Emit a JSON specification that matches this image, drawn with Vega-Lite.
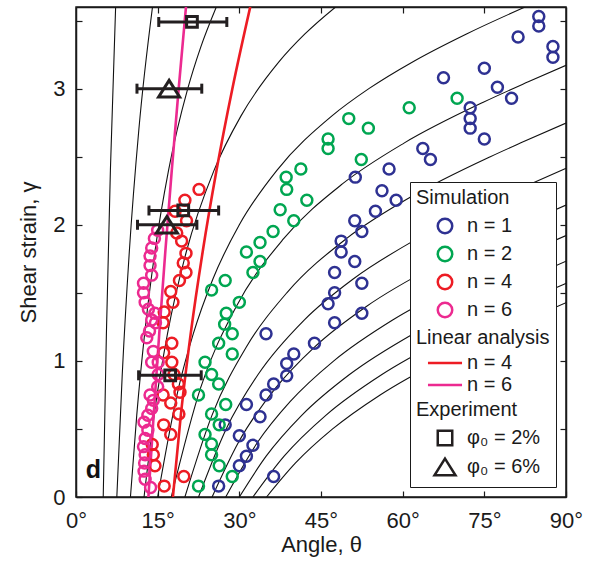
{
  "$schema": "https://vega.github.io/schema/vega-lite/v6.json",
  "width": 490,
  "height": 490,
  "autosize": {"type": "none"},
  "padding": {"left": 76, "top": 7, "right": 24, "bottom": 70},
  "background": "white",
  "config": {
    "font": "Liberation Sans",
    "view": {"stroke": "#1a1a1a", "strokeWidth": 1.5},
    "axis": {
      "grid": false, "labelFontSize": 22, "titleFontSize": 22, "labelColor": "#1a1a1a",
      "titleColor": "#1a1a1a", "titleFontWeight": "normal", "domainColor": "#1a1a1a",
      "domainWidth": 1.5, "tickColor": "#1a1a1a", "tickWidth": 1.2, "tickSize": -6, "labelFlush": false
    },
    "legend": {
      "labelFontSize": 20, "labelColor": "#1a1a1a", "padding": 6, "rowPadding": 2,
      "strokeColor": "#1a1a1a", "fillColor": "white", "symbolStrokeWidth": 2.5, "symbolSize": 210,
      "symbolOffset": 19, "labelOffset": -39, "labelLimit": 300
    }
  },
  "datasets": {
    "curves": [
      {"c":5,"g":0,"t":5},{"c":5,"g":1.2,"t":5.583},{"c":5,"g":2.4,"t":6.319},{"c":5,"g":3.6,"t":7.278},
      {"c":7.5,"g":0,"t":7.5},{"c":7.5,"g":0.9,"t":8.494},{"c":7.5,"g":1.8,"t":9.789},{"c":7.5,"g":2.7,"t":11.545},{"c":7.5,"g":3.6,"t":14.05},
      {"c":10,"g":0,"t":10},{"c":10,"g":0.6,"t":11.155},{"c":10,"g":1.2,"t":12.607},{"c":10,"g":1.8,"t":14.484},{"c":10,"g":2.4,"t":16.998},{"c":10,"g":3.0,"t":20.523},{"c":10,"g":3.3,"t":22.866},{"c":10,"g":3.6,"t":25.771},
      {"c":12.5,"g":0,"t":12.5},{"c":12.5,"g":0.6,"t":14.344},{"c":12.5,"g":1.2,"t":16.807},{"c":12.5,"g":1.8,"t":20.25},{"c":12.5,"g":2.4,"t":25.351},{"c":12.5,"g":2.8,"t":30.31},{"c":12.5,"g":3.2,"t":37.342},{"c":12.5,"g":3.4,"t":41.996},{"c":12.5,"g":3.6,"t":47.68},
      {"c":15,"g":0,"t":15},{"c":15,"g":0.8,"t":18.832},{"c":15,"g":1.2,"t":21.55},{"c":15,"g":1.6,"t":25.128},{"c":15,"g":2.0,"t":30},{"c":15,"g":2.4,"t":36.896},{"c":15,"g":2.8,"t":47.013},{"c":15,"g":3.0,"t":53.791},{"c":15,"g":3.2,"t":61.983},{"c":15,"g":3.4,"t":71.629},{"c":15,"g":3.6,"t":82.475},
      {"c":17.5,"g":0,"t":17.5},{"c":17.5,"g":0.8,"t":22.864},{"c":17.5,"g":1.4,"t":29.443},{"c":17.5,"g":1.9,"t":38.182},{"c":17.5,"g":2.3,"t":48.925},{"c":17.5,"g":2.6,"t":60.247},{"c":17.5,"g":2.9,"t":74.805},{"c":17.5,"g":3.05,"t":83.067},{"c":17.5,"g":3.1716,"t":90},
      {"c":20,"g":0,"t":20},{"c":20,"g":0.6,"t":24.969},{"c":20,"g":1.1,"t":31.258},{"c":20,"g":1.5,"t":38.716},{"c":20,"g":1.9,"t":49.718},{"c":20,"g":2.2,"t":61.299},{"c":20,"g":2.5,"t":76.099},{"c":20,"g":2.6,"t":81.609},{"c":20,"g":2.7475,"t":90},
      {"c":22.5,"g":0,"t":22.5},{"c":22.5,"g":0.5,"t":27.583},{"c":22.5,"g":0.9,"t":33.441},{"c":22.5,"g":1.3,"t":41.908},{"c":22.5,"g":1.6,"t":50.847},{"c":22.5,"g":1.9,"t":62.787},{"c":22.5,"g":2.15,"t":75.2},{"c":22.5,"g":2.3,"t":83.485},{"c":22.5,"g":2.4142,"t":90},
      {"c":25,"g":0,"t":25},{"c":25,"g":0.4,"t":29.823},{"c":25,"g":0.8,"t":36.641},{"c":25,"g":1.1,"t":43.754},{"c":25,"g":1.4,"t":53.332},{"c":25,"g":1.7,"t":66.035},{"c":25,"g":1.9,"t":76.261},{"c":25,"g":2.05,"t":84.602},{"c":25,"g":2.1445,"t":90},
      {"c":27.5,"g":0,"t":27.5},{"c":27.5,"g":0.4,"t":33.32},{"c":27.5,"g":0.7,"t":39.319},{"c":27.5,"g":1.0,"t":47.355},{"c":27.5,"g":1.3,"t":58.159},{"c":27.5,"g":1.55,"t":69.645},{"c":27.5,"g":1.75,"t":80.296},{"c":27.5,"g":1.921,"t":90},
      {"c":30,"g":0,"t":30},{"c":30,"g":0.3,"t":34.925},{"c":30,"g":0.6,"t":41.455},{"c":30,"g":0.9,"t":50.235},{"c":30,"g":1.2,"t":61.983},{"c":30,"g":1.45,"t":74.246},{"c":30,"g":1.6,"t":82.475},{"c":30,"g":1.7321,"t":90},
      {"c":32.5,"g":0,"t":32.5},{"c":32.5,"g":0.3,"t":38.224},{"c":32.5,"g":0.6,"t":45.881},{"c":32.5,"g":0.9,"t":56.189},{"c":32.5,"g":1.15,"t":67.232},{"c":32.5,"g":1.35,"t":77.609},{"c":32.5,"g":1.5,"t":86.013},{"c":32.5,"g":1.5697,"t":90},
      {"c":35,"g":0,"t":35},{"c":35,"g":0.25,"t":40.326},{"c":35,"g":0.5,"t":47.136},{"c":35,"g":0.75,"t":55.859},{"c":35,"g":1.0,"t":66.824},{"c":35,"g":1.2,"t":77.151},{"c":35,"g":1.35,"t":85.534},{"c":35,"g":1.4281,"t":90}
    ],
    "linear": [
      {"s":"lin4","g":0,"t":17.8},{"s":"lin4","g":0.6,"t":19.25},{"s":"lin4","g":1.2,"t":21.07},{"s":"lin4","g":1.8,"t":23.26},{"s":"lin4","g":2.4,"t":25.81},{"s":"lin4","g":3.0,"t":28.72},{"s":"lin4","g":3.6,"t":32.0},
      {"s":"lin6","g":0,"t":13.3},{"s":"lin6","g":0.6,"t":14.26},{"s":"lin6","g":1.2,"t":15.29},{"s":"lin6","g":1.8,"t":16.4},{"s":"lin6","g":2.4,"t":17.59},{"s":"lin6","g":3.0,"t":18.86},{"s":"lin6","g":3.6,"t":20.2}
    ],
    "sim": [
      {"k":"sim1","t":85.0,"g":3.53},{"k":"sim1","t":85.0,"g":3.46},{"k":"sim1","t":81.2,"g":3.38},{"k":"sim1","t":87.6,"g":3.31},{"k":"sim1","t":87.6,"g":3.23},
      {"k":"sim1","t":75.0,"g":3.15},{"k":"sim1","t":67.5,"g":3.08},{"k":"sim1","t":77.4,"g":3.01},{"k":"sim1","t":80.0,"g":2.93},{"k":"sim1","t":72.4,"g":2.86},
      {"k":"sim1","t":72.4,"g":2.78},{"k":"sim1","t":72.4,"g":2.71},{"k":"sim1","t":75.0,"g":2.63},{"k":"sim1","t":63.7,"g":2.56},{"k":"sim1","t":65.1,"g":2.48},
      {"k":"sim1","t":57.5,"g":2.41},{"k":"sim1","t":51.3,"g":2.35},{"k":"sim1","t":56.2,"g":2.25},{"k":"sim1","t":58.8,"g":2.18},{"k":"sim1","t":55.0,"g":2.10},
      {"k":"sim1","t":51.2,"g":2.03},{"k":"sim1","t":52.5,"g":1.95},{"k":"sim1","t":48.7,"g":1.88},{"k":"sim1","t":48.7,"g":1.80},{"k":"sim1","t":51.2,"g":1.73},
      {"k":"sim1","t":47.5,"g":1.65},{"k":"sim1","t":52.5,"g":1.57},{"k":"sim1","t":47.5,"g":1.50},{"k":"sim1","t":46.3,"g":1.42},{"k":"sim1","t":52.5,"g":1.35},
      {"k":"sim1","t":47.5,"g":1.28},{"k":"sim1","t":34.9,"g":1.20},{"k":"sim1","t":43.8,"g":1.13},{"k":"sim1","t":40.0,"g":1.05},{"k":"sim1","t":38.7,"g":0.98},
      {"k":"sim1","t":38.7,"g":0.89},{"k":"sim1","t":36.3,"g":0.83},{"k":"sim1","t":34.9,"g":0.75},{"k":"sim1","t":31.3,"g":0.68},{"k":"sim1","t":33.8,"g":0.59},
      {"k":"sim1","t":27.4,"g":0.53},{"k":"sim1","t":30.0,"g":0.45},{"k":"sim1","t":32.5,"g":0.38},{"k":"sim1","t":31.3,"g":0.30},{"k":"sim1","t":30.0,"g":0.23},
      {"k":"sim1","t":36.3,"g":0.15},{"k":"sim1","t":26.2,"g":0.08},
      {"k":"sim2","t":70.0,"g":2.93},{"k":"sim2","t":61.2,"g":2.86},{"k":"sim2","t":50.1,"g":2.78},{"k":"sim2","t":53.7,"g":2.71},{"k":"sim2","t":46.3,"g":2.63},
      {"k":"sim2","t":46.3,"g":2.56},{"k":"sim2","t":52.4,"g":2.48},{"k":"sim2","t":41.3,"g":2.41},{"k":"sim2","t":38.6,"g":2.35},{"k":"sim2","t":38.7,"g":2.26},
      {"k":"sim2","t":42.4,"g":2.18},{"k":"sim2","t":37.5,"g":2.11},{"k":"sim2","t":40.0,"g":2.03},{"k":"sim2","t":36.2,"g":1.95},{"k":"sim2","t":33.8,"g":1.87},
      {"k":"sim2","t":31.3,"g":1.80},{"k":"sim2","t":33.8,"g":1.73},{"k":"sim2","t":32.5,"g":1.65},{"k":"sim2","t":27.4,"g":1.59},{"k":"sim2","t":24.9,"g":1.52},
      {"k":"sim2","t":30.0,"g":1.43},{"k":"sim2","t":27.6,"g":1.35},{"k":"sim2","t":27.3,"g":1.27},{"k":"sim2","t":28.7,"g":1.20},{"k":"sim2","t":26.2,"g":1.13},
      {"k":"sim2","t":28.7,"g":1.05},{"k":"sim2","t":23.7,"g":0.99},{"k":"sim2","t":24.9,"g":0.90},{"k":"sim2","t":26.2,"g":0.83},{"k":"sim2","t":22.5,"g":0.75},
      {"k":"sim2","t":27.5,"g":0.68},{"k":"sim2","t":24.9,"g":0.61},{"k":"sim2","t":26.3,"g":0.53},{"k":"sim2","t":23.7,"g":0.46},{"k":"sim2","t":24.9,"g":0.39},
      {"k":"sim2","t":24.9,"g":0.31},{"k":"sim2","t":26.3,"g":0.23},{"k":"sim2","t":28.7,"g":0.15},{"k":"sim2","t":22.5,"g":0.08},
      {"k":"sim4","t":22.6,"g":2.26},{"k":"sim4","t":20.0,"g":2.18},{"k":"sim4","t":18.2,"g":2.10},{"k":"sim4","t":20.3,"g":2.03},{"k":"sim4","t":18.5,"g":1.94},
      {"k":"sim4","t":19.4,"g":1.88},{"k":"sim4","t":20.2,"g":1.79},{"k":"sim4","t":19.7,"g":1.72},{"k":"sim4","t":20.2,"g":1.65},{"k":"sim4","t":19.0,"g":1.59},
      {"k":"sim4","t":17.4,"g":1.51},{"k":"sim4","t":17.8,"g":1.43},{"k":"sim4","t":16.2,"g":1.36},{"k":"sim4","t":16.0,"g":1.28},{"k":"sim4","t":17.6,"g":1.13},
      {"k":"sim4","t":16.1,"g":1.06},{"k":"sim4","t":17.6,"g":0.99},{"k":"sim4","t":18.0,"g":0.90},{"k":"sim4","t":18.8,"g":0.83},{"k":"sim4","t":19.1,"g":0.77},
      {"k":"sim4","t":16.0,"g":0.75},{"k":"sim4","t":17.4,"g":0.69},{"k":"sim4","t":18.9,"g":0.61},{"k":"sim4","t":16.1,"g":0.53},{"k":"sim4","t":17.4,"g":0.46},
      {"k":"sim4","t":14.0,"g":0.385},{"k":"sim4","t":14.2,"g":0.31},{"k":"sim4","t":14.5,"g":0.23},{"k":"sim4","t":19.8,"g":0.15},{"k":"sim4","t":16.2,"g":0.08},
      {"k":"sim6","t":13.7,"g":0.07},{"k":"sim6","t":12.7,"g":0.13},{"k":"sim6","t":12.5,"g":0.19},{"k":"sim6","t":12.6,"g":0.25},{"k":"sim6","t":12.7,"g":0.31},
      {"k":"sim6","t":12.4,"g":0.37},{"k":"sim6","t":12.7,"g":0.43},{"k":"sim6","t":13.2,"g":0.49},{"k":"sim6","t":12.5,"g":0.55},{"k":"sim6","t":13.2,"g":0.60},
      {"k":"sim6","t":13.9,"g":0.65},{"k":"sim6","t":14.2,"g":0.71},{"k":"sim6","t":13.6,"g":0.75},{"k":"sim6","t":15.0,"g":0.81},{"k":"sim6","t":15.1,"g":0.90},
      {"k":"sim6","t":13.9,"g":0.99},{"k":"sim6","t":15.1,"g":0.99},{"k":"sim6","t":14.2,"g":1.07},{"k":"sim6","t":13.0,"g":1.17},{"k":"sim6","t":13.5,"g":1.22},
      {"k":"sim6","t":14.6,"g":1.28},{"k":"sim6","t":13.9,"g":1.30},{"k":"sim6","t":14.5,"g":1.35},{"k":"sim6","t":13.3,"g":1.38},{"k":"sim6","t":12.7,"g":1.43},
      {"k":"sim6","t":12.4,"g":1.50},{"k":"sim6","t":12.4,"g":1.57},{"k":"sim6","t":13.9,"g":1.63},{"k":"sim6","t":13.6,"g":1.70},{"k":"sim6","t":13.6,"g":1.77},
      {"k":"sim6","t":13.9,"g":1.83},{"k":"sim6","t":14.4,"g":1.90},{"k":"sim6","t":15.0,"g":1.96}
    ],
    "exp": [
      {"k":"exp2","t":21.3,"g":3.49,"lo":15.2,"hi":27.7},
      {"k":"exp2","t":19.7,"g":2.105,"lo":13.4,"hi":26.2},
      {"k":"exp2","t":17.3,"g":0.894,"lo":11.5,"hi":23.0},
      {"k":"exp6","t":17.1,"g":3.0,"lo":11.2,"hi":23.1},
      {"k":"exp6","t":16.7,"g":2.0,"lo":11.3,"hi":22.2}
    ]
  },
  "layer": [
    {
      "data": {"name": "curves"},
      "mark": {"type": "line", "color": "#111111", "strokeWidth": 1.1, "interpolate": "monotone", "clip": true},
      "encoding": {
        "x": {"field": "t", "type": "quantitative", "scale": {"domain": [0, 90], "nice": false, "zero": false},
              "axis": {"values": [0, 15, 30, 45, 60, 75, 90], "labelExpr": "datum.value + '°'", "title": "Angle, θ", "labelPadding": 19, "titlePadding": 3}},
        "y": {"field": "g", "type": "quantitative", "scale": {"domain": [0, 3.6], "nice": false, "zero": false},
              "axis": {"values": [0, 0.5, 1, 1.5, 2, 2.5, 3, 3.5], "labelExpr": "datum.value % 1 === 0 ? '' + datum.value : ''", "title": "Shear strain, γ", "labelPadding": 17, "titlePadding": 12}},
        "detail": {"field": "c", "type": "nominal"},
        "order": {"field": "g", "type": "quantitative"}
      }
    },
    {
      "data": {"name": "linear"},
      "mark": {"type": "line", "strokeWidth": 2.6, "interpolate": "monotone", "clip": true},
      "encoding": {
        "x": {"field": "t", "type": "quantitative", "scale": {"domain": [0, 90], "nice": false, "zero": false},
              "axis": {"orient": "top", "labels": false, "title": null, "values": [15, 30, 45, 60, 75]}},
        "y": {"field": "g", "type": "quantitative", "scale": {"domain": [0, 3.6], "nice": false, "zero": false},
              "axis": {"orient": "right", "labels": false, "title": null, "values": [0.5, 1, 1.5, 2, 2.5, 3, 3.5]}},
        "stroke": {"field": "s", "type": "nominal", "scale": {"domain": ["lin4", "lin6"], "range": ["#ed1c24", "#ec2a90"]}, "legend": null},
        "order": {"field": "g", "type": "quantitative"}
      }
    },
    {
      "data": {"name": "sim"},
      "mark": {"type": "point", "filled": false, "strokeWidth": 2.5, "size": 120, "opacity": 1, "clip": true},
      "encoding": {
        "x": {"field": "t", "type": "quantitative", "scale": {"domain": [0, 90], "nice": false, "zero": false}, "axis": null},
        "y": {"field": "g", "type": "quantitative", "scale": {"domain": [0, 3.6], "nice": false, "zero": false}, "axis": null},
        "color": {"field": "k", "type": "nominal",
          "scale": {"domain": ["Simulation", "sim1", "sim2", "sim4", "sim6", "Linear analysis", "lin4", "lin6", "Experiment", "exp2", "exp6"],
                    "range": ["transparent", "#2e3192", "#00a651", "#ed1c24", "#ec2a90", "transparent", "#ed1c24", "#ec2a90", "transparent", "#231f20", "#231f20"]},
          "legend": {"title": null, "orient": "bottom-right", "offset": 10,
            "labelExpr": "datum.label == 'sim1' ? '\u200b\u2003\u2003\u2007n = 1' : datum.label == 'sim2' ? '\u200b\u2003\u2003\u2007n = 2' : (datum.label == 'sim4' || datum.label == 'lin4') ? '\u200b\u2003\u2003\u2007n = 4' : (datum.label == 'sim6' || datum.label == 'lin6') ? '\u200b\u2003\u2003\u2007n = 6' : datum.label == 'exp2' ? '\u200b\u2003\u2003\u2007φ₀ = 2%' : datum.label == 'exp6' ? '\u200b\u2003\u2003\u2007φ₀ = 6%' : datum.label"}},
        "shape": {"field": "k", "type": "nominal",
          "scale": {"domain": ["Simulation", "sim1", "sim2", "sim4", "sim6", "Linear analysis", "lin4", "lin6", "Experiment", "exp2", "exp6"],
                    "range": ["circle", "circle", "circle", "circle", "circle", "circle", "M-2.35,0H2.35", "M-2.35,0H2.35", "circle", "square", "M0,-1.15L1.45,1.15L-1.45,1.15Z"]},
          "legend": {"title": null, "orient": "bottom-right", "offset": 10,
            "labelExpr": "datum.label == 'sim1' ? '\u200b\u2003\u2003\u2007n = 1' : datum.label == 'sim2' ? '\u200b\u2003\u2003\u2007n = 2' : (datum.label == 'sim4' || datum.label == 'lin4') ? '\u200b\u2003\u2003\u2007n = 4' : (datum.label == 'sim6' || datum.label == 'lin6') ? '\u200b\u2003\u2003\u2007n = 6' : datum.label == 'exp2' ? '\u200b\u2003\u2003\u2007φ₀ = 2%' : datum.label == 'exp6' ? '\u200b\u2003\u2003\u2007φ₀ = 6%' : datum.label"}}
      }
    },
    {
      "data": {"name": "exp"},
      "mark": {"type": "rule", "color": "#231f20", "strokeWidth": 3},
      "encoding": {
        "x": {"field": "lo", "type": "quantitative", "scale": {"domain": [0, 90], "nice": false, "zero": false}, "axis": null},
        "x2": {"field": "hi"},
        "y": {"field": "g", "type": "quantitative", "scale": {"domain": [0, 3.6], "nice": false, "zero": false}, "axis": null}
      }
    },
    {
      "data": {"name": "exp"},
      "mark": {"type": "tick", "orient": "vertical", "color": "#231f20", "size": 10, "thickness": 3, "opacity": 1},
      "encoding": {
        "x": {"field": "lo", "type": "quantitative", "scale": {"domain": [0, 90], "nice": false, "zero": false}, "axis": null},
        "y": {"field": "g", "type": "quantitative", "scale": {"domain": [0, 3.6], "nice": false, "zero": false}, "axis": null}
      }
    },
    {
      "data": {"name": "exp"},
      "mark": {"type": "tick", "orient": "vertical", "color": "#231f20", "size": 10, "thickness": 3, "opacity": 1},
      "encoding": {
        "x": {"field": "hi", "type": "quantitative", "scale": {"domain": [0, 90], "nice": false, "zero": false}, "axis": null},
        "y": {"field": "g", "type": "quantitative", "scale": {"domain": [0, 3.6], "nice": false, "zero": false}, "axis": null}
      }
    },
    {
      "data": {"name": "exp"},
      "mark": {"type": "point", "filled": false, "strokeWidth": 3, "opacity": 1},
      "encoding": {
        "x": {"field": "t", "type": "quantitative", "scale": {"domain": [0, 90], "nice": false, "zero": false}, "axis": null},
        "y": {"field": "g", "type": "quantitative", "scale": {"domain": [0, 3.6], "nice": false, "zero": false}, "axis": null},
        "color": {"field": "k", "type": "nominal"},
        "shape": {"field": "k", "type": "nominal"},
        "size": {"condition": {"test": "datum.k === 'exp6'", "value": 210}, "value": 115}
      }
    },
    {
      "data": {"values": [{"label": "d"}]},
      "mark": {"type": "text", "fontSize": 25, "fontWeight": "bold", "align": "left", "baseline": "alphabetic", "color": "#111111"},
      "encoding": {
        "text": {"field": "label"},
        "x": {"datum": 1.8, "type": "quantitative", "scale": {"domain": [0, 90], "nice": false, "zero": false}, "axis": null},
        "y": {"datum": 0.142, "type": "quantitative", "scale": {"domain": [0, 3.6], "nice": false, "zero": false}, "axis": null}
      }
    }
  ],
  "resolve": {"axis": {"x": "independent", "y": "independent"}}
}
